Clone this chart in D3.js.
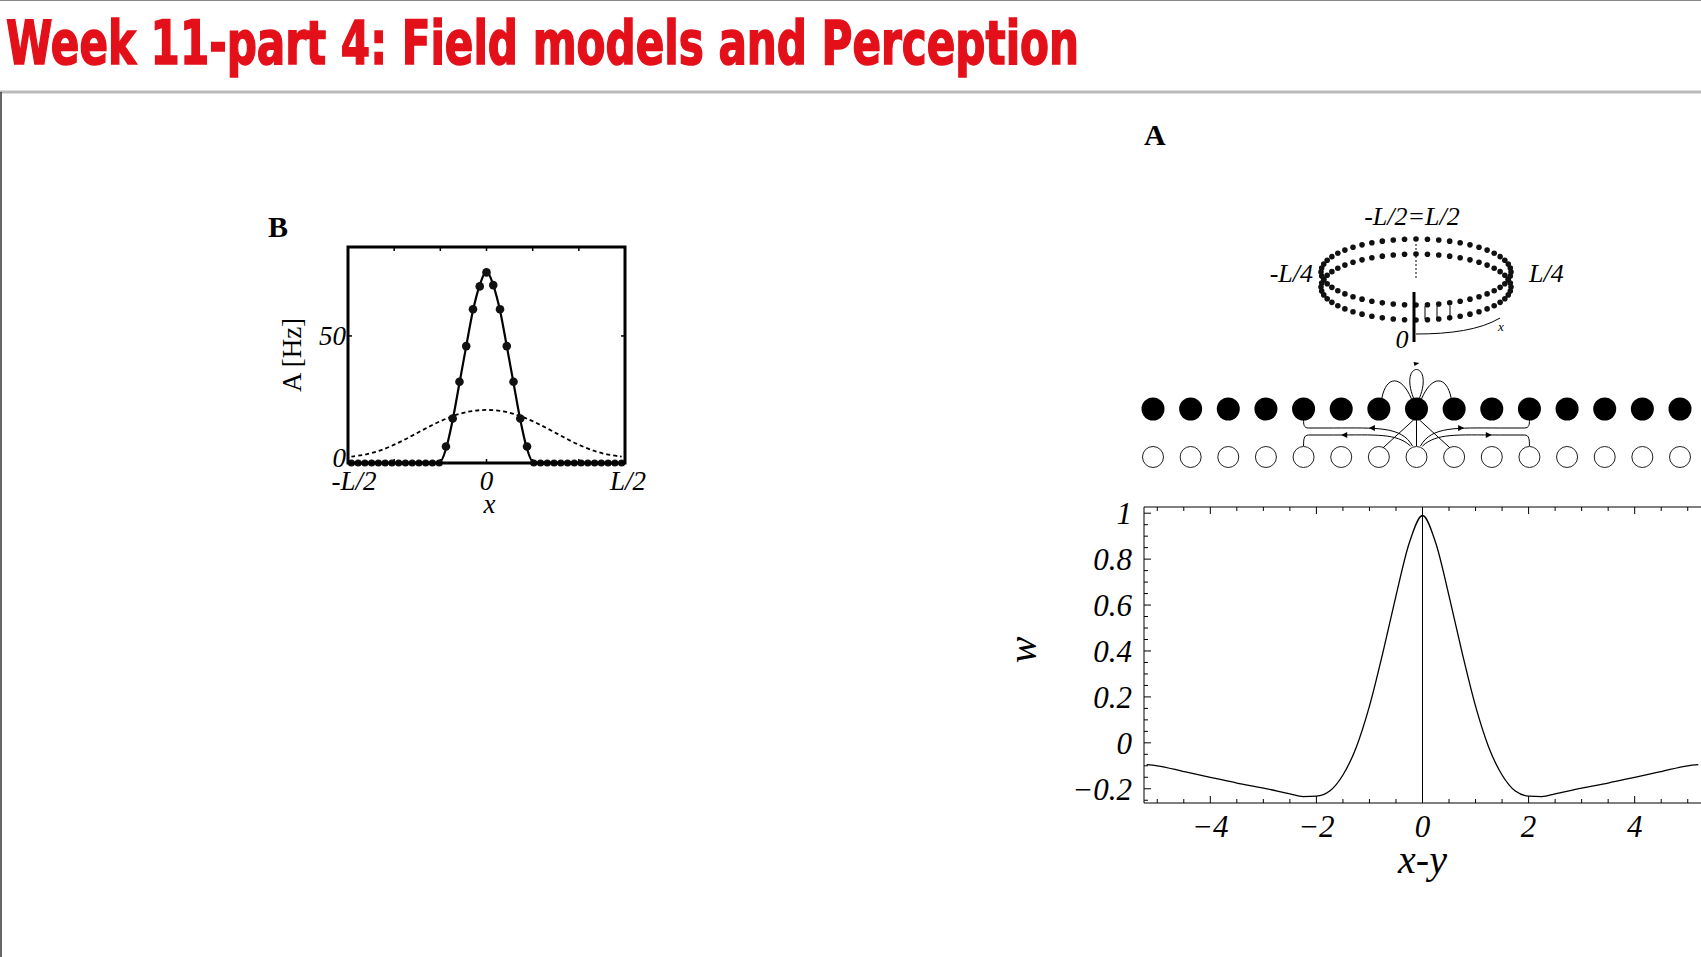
<!DOCTYPE html>
<html><head><meta charset="utf-8">
<script src="https://cdn.jsdelivr.net/npm/d3@7"></script>
<style>body{margin:0;background:#fff}svg{display:block}</style></head>
<body><svg id="c" width="1701" height="957"></svg>
<script>
// ---- Panel B data (neuron index -20..20 across -L/2..L/2)
const bDotIdx = [-20,-19,-18,-17,-16,-15,-14,-13,-12,-11,-10,-9,-8,-7,-6,-5,-4,-3,-2,-1,0,1,2,3,4,5,6,7,8,9,10,11,12,13,14,15,16,17,18,19,20];
const bDotVal = [0,0,0,0,0,0,0,0,0,0,0,0,0,0,6.5,17.5,32,46,60.5,69.5,75,70,60.5,46,32,17.5,6.5,0,0,0,0,0,0,0,0,0,0,0,0,0,0];
const bSolidIdx = [-20,-7,-6,-5,-4,-3,-2,-1,0,1,2,3,4,5,6,7,20];
const bSolidVal = [0,0,5.5,17,31.5,46,60,70,75.5,70,60,46,31.5,17,5.5,0,0];
const bDashIdx = [-20,-18,-16,-14,-12,-10,-8,-6,-4,-2,0,2,4,6,8,10,12,14,16,18,20];
const bDashVal = [2.5,3.2,4.6,6.7,9.3,12.2,15,17.5,19.5,20.6,21,20.6,19.5,17.5,15,12.2,9.3,6.7,4.6,3.2,2.5];
const bXTickLabels = ["-L/2","0","L/2"];
const bYTicks = [0,50];
// ---- Panel A (w kernel)
const wX = [-5.2,-5,-4.5,-4,-3.5,-3,-2.5,-2.25,-2,-1.75,-1.5,-1.25,-1,-0.75,-0.5,-0.25,0,0.25,0.5,0.75,1,1.25,1.5,1.75,2,2.25,2.5,3,3.5,4,4.5,5,5.2];
const wY = [-0.095,-0.1,-0.125,-0.15,-0.175,-0.197,-0.222,-0.234,-0.232,-0.21,-0.14,-0.02,0.16,0.39,0.64,0.87,0.99,0.87,0.64,0.39,0.16,-0.02,-0.14,-0.21,-0.232,-0.234,-0.222,-0.197,-0.175,-0.15,-0.125,-0.1,-0.095];
const wXTicks = [-4,-2,0,2,4];
const wYTicks = [-0.2,0,0.2,0.4,0.6,0.8,1];
const neuronIdx = [-7,-6,-5,-4,-3,-2,-1,0,1,2,3,4,5,6,7];

const svg = d3.select("#c");
svg.append("line").attr("x1",0).attr("x2",1701).attr("y1",0.5).attr("y2",0.5).attr("stroke","#888");
svg.append("line").attr("x1",0).attr("x2",1701).attr("y1",92).attr("y2",92).attr("stroke","#bbb").attr("stroke-width",3);
svg.append("line").attr("x1",1).attr("x2",1).attr("y1",92).attr("y2",957).attr("stroke","#333").attr("stroke-width",1.5);
svg.append("text").attr("x",6).attr("y",64).attr("fill","#e3101a").attr("stroke","#e3101a").attr("stroke-width",1.5)
  .style("font-family","'DejaVu Sans Condensed','DejaVu Sans'").style("font-weight","bold").style("font-size","60px")
  .attr("textLength",1073).attr("lengthAdjust","spacingAndGlyphs")
  .text("Week 11-part 4: Field models and Perception");

const serif = "'Liberation Serif','DejaVu Serif',serif";

// ---------- Panel B
{
  const L=348,R=625,T=247,B=463;
  const x = d3.scaleLinear().domain([-20.5,20.5]).range([L,R]);
  const y = d3.scaleLinear().domain([0,85]).range([B,T]);
  const g = svg.append("g");
  g.append("text").attr("x",268).attr("y",237).text("B").style("font-family",serif).style("font-weight","bold").style("font-size","30px");
  const frac = [-1/3,-1/6,0,1/6,1/3];
  frac.forEach(f=>{const xx=x(f*41);
    g.append("line").attr("x1",xx).attr("x2",xx).attr("y1",T).attr("y2",T+4).attr("stroke","#000").attr("stroke-width",1.5);
    g.append("line").attr("x1",xx).attr("x2",xx).attr("y1",B).attr("y2",B-4).attr("stroke","#000").attr("stroke-width",1.5);});
  bYTicks.forEach(v=>{g.append("line").attr("x1",R).attr("x2",R-4).attr("y1",y(v)).attr("y2",y(v)).attr("stroke","#000").attr("stroke-width",1.5);
    g.append("line").attr("x1",L).attr("x2",L+4).attr("y1",y(v)).attr("y2",y(v)).attr("stroke","#000").attr("stroke-width",1.5);
    g.append("text").attr("x",L-2).attr("y",y(v)+(v===0?4:9)).attr("text-anchor","end").text(v).style("font-family",serif).style("font-style","italic").style("font-size","27px");});
  [-20.5,0,20.5].forEach((v,i)=>g.append("text").attr("x",x(v)+(i===0?6:(i===2?3:0))).attr("y",B+27).attr("text-anchor","middle").text(bXTickLabels[i]).style("font-family",serif).style("font-style","italic").style("font-size","27px"));
  g.append("text").attr("x",(L+R)/2+3).attr("y",B+50).attr("text-anchor","middle").text("x").style("font-family",serif).style("font-style","italic").style("font-size","27px");
  g.append("text").attr("transform",`translate(${L-47},${355}) rotate(-90)`).attr("text-anchor","middle").text("A [Hz]").style("font-family",serif).style("font-size","27px");
  g.append("path").datum(bDashIdx.map((d,i)=>[d,bDashVal[i]])).attr("d",d3.line().x(d=>x(d[0])).y(d=>y(d[1])).curve(d3.curveBasis))
    .attr("fill","none").attr("stroke","#000").attr("stroke-width",1.8).attr("stroke-dasharray","4,3");
  g.append("path").datum(bSolidIdx.map((d,i)=>[d,bSolidVal[i]])).attr("d",d3.line().x(d=>x(d[0])).y(d=>y(d[1])).curve(d3.curveMonotoneX))
    .attr("fill","none").attr("stroke","#000").attr("stroke-width",2.2);
  g.selectAll("circle.bd").data(bDotIdx).join("circle").attr("cx",d=>x(d)).attr("cy",(d,i)=>y(bDotVal[i])).attr("r",d=>Math.abs(d)<=6?4.3:3.6).attr("fill","#111");
  g.append("rect").attr("x",L).attr("y",T).attr("width",R-L).attr("height",B-T).attr("fill","none").attr("stroke","#000").attr("stroke-width",3);
}

// ---------- Panel A
{
  const g = svg.append("g");
  g.append("text").attr("x",1144).attr("y",145).text("A").style("font-family",serif).style("font-weight","bold").style("font-size","30px");
  const cx=1416, rx=95, ry=33;
  [272,287].forEach(cy=>{
    const ts=d3.range(52).map(i=>i*2*Math.PI/52);
    g.selectAll(null).data(ts).join("circle").attr("cx",t=>cx+rx*Math.cos(t)).attr("cy",t=>cy+ry*Math.sin(t)).attr("r",2.8).attr("fill","#111");
  });
  g.append("line").attr("x1",cx).attr("x2",cx).attr("y1",244).attr("y2",278).attr("stroke","#000").attr("stroke-dasharray","2,2");
  g.append("line").attr("x1",cx-2).attr("x2",cx-2).attr("y1",292).attr("y2",342).attr("stroke","#000").attr("stroke-width",3);
  [1425,1437,1450].forEach(xx=>g.append("line").attr("x1",xx).attr("x2",xx).attr("y1",306).attr("y2",319).attr("stroke","#000"));
  g.append("path").attr("d","M1416,334 C1450,334 1480,330 1500,318").attr("fill","none").attr("stroke","#000");
  g.append("text").attr("x",1498).attr("y",331).text("x").style("font-family",serif).style("font-style","italic").style("font-size","13px");
  const lab=(t,x,y,a)=>g.append("text").attr("x",x).attr("y",y).attr("text-anchor",a).text(t).style("font-family",serif).style("font-style","italic").style("font-size","26px");
  lab("-L/2=L/2",1412,225,"middle"); lab("-L/4",1313,282,"end"); lab("L/4",1529,282,"start"); lab("0",1402,348,"middle");
  const nx = d3.scaleLinear().domain([-7,7]).range([1153,1680]);
  g.selectAll(null).data(neuronIdx).join("circle").attr("cx",d=>nx(d)).attr("cy",409).attr("r",11.5).attr("fill","#000");
  g.selectAll(null).data(neuronIdx).join("circle").attr("cx",d=>nx(d)).attr("cy",457).attr("r",10.5).attr("fill","#fff").attr("stroke","#222").attr("stroke-width",1);
  const c=nx(0);
  const P=(d)=>g.append("path").attr("d",d).attr("fill","none").attr("stroke","#000").attr("stroke-width",1);
  P(`M${c-3},398 C${c-18},360 ${c+18},360 ${c+3},398`);
  g.append("path").attr("d",`M${c-3},362 l6,1 l-5,3z`).attr("fill","#000");
  P(`M${c-5},399 C${c-15},375 ${c-30},375 ${nx(-1)+3},398`);
  P(`M${c+5},399 C${c+15},375 ${c+30},375 ${nx(1)-3},398`);
  P(`M${c},420 L${c},446`); P(`M${c-3},420 L${nx(-1)+4},448`); P(`M${c+3},420 L${nx(1)-4},448`);
  P(`M${c-4},446 C${c-15},426 ${c-40},428 ${nx(-3)+30},428 L${nx(-3)+5},428 C${nx(-3)},428 ${nx(-3)},424 ${nx(-3)},420`);
  P(`M${c+4},446 C${c+15},426 ${c+40},428 ${nx(3)-30},428 L${nx(3)-5},428 C${nx(3)},428 ${nx(3)},424 ${nx(3)},420`);
  P(`M${c-6},446 C${c-20},433 ${c-40},435 ${nx(-3)+30},435 L${nx(-3)+5},435 C${nx(-3)},435 ${nx(-3)},440 ${nx(-3)},446`);
  P(`M${c+6},446 C${c+20},433 ${c+40},435 ${nx(3)-30},435 L${nx(3)-5},435 C${nx(3)},435 ${nx(3)},440 ${nx(3)},446`);
  [[nx(-1)-10,428,-1],[nx(1)+10,428,1],[nx(-2),435,-1],[nx(2),435,1]].forEach(([ax,ay,dir])=>
    g.append("path").attr("d",`M${ax},${ay} l${-dir*6},-3 l0,6z`).attr("fill","#000"));

  const L=1144,R=1701,T=507,B=803;
  const x=d3.scaleLinear().domain([-5.25,5.25]).range([L,R]);
  const y=d3.scaleLinear().domain([-0.262,1.027]).range([B,T]);
  g.append("line").attr("x1",L).attr("x2",R).attr("y1",B).attr("y2",B).attr("stroke","#000");
  g.append("line").attr("x1",L).attr("x2",R).attr("y1",T).attr("y2",T).attr("stroke","#000");
  g.append("line").attr("x1",L).attr("x2",L).attr("y1",T).attr("y2",B).attr("stroke","#000");
  g.append("line").attr("x1",x(0)).attr("x2",x(0)).attr("y1",T).attr("y2",B).attr("stroke","#000");
  d3.range(-5,5.01,0.5).forEach(v=>{const big=Math.abs(v%2)<1e-9; const len=big?7:4;
    g.append("line").attr("x1",x(v)).attr("x2",x(v)).attr("y1",B).attr("y2",B-len).attr("stroke","#000");
    g.append("line").attr("x1",x(v)).attr("x2",x(v)).attr("y1",T).attr("y2",T+len).attr("stroke","#000");});
  d3.range(-0.25,1.001,0.05).forEach(v=>{const big=Math.abs(Math.round(v*100)%20)<1e-6; const len=big?7:4;
    g.append("line").attr("x1",L).attr("x2",L+len).attr("y1",y(v)).attr("y2",y(v)).attr("stroke","#000");});
  const fmtY=v=>v===0?"0":v===1?"1":(v<0?"\u2212":"")+Math.abs(v).toFixed(1);
  wYTicks.forEach(v=>g.append("text").attr("x",L-12).attr("y",y(v)+11).attr("text-anchor","end").text(fmtY(v)).style("font-family",serif).style("font-style","italic").style("font-size","31px"));
  wXTicks.forEach(v=>g.append("text").attr("x",x(v)).attr("y",B+34).attr("text-anchor","middle").text((v<0?"\u2212":"")+Math.abs(v)).style("font-family",serif).style("font-style","italic").style("font-size","31px"));
  g.append("text").attr("x",x(0)).attr("y",B+70).attr("text-anchor","middle").text("x-y").style("font-family",serif).style("font-style","italic").style("font-size","40px");
  g.append("text").attr("transform",`translate(1036,650) rotate(-90)`).attr("text-anchor","middle").text("w").style("font-family",serif).style("font-style","italic").style("font-size","40px");
  g.append("path").datum(wX.map((d,i)=>[d,wY[i]])).attr("d",d3.line().x(d=>x(d[0])).y(d=>y(d[1])).curve(d3.curveMonotoneX))
    .attr("fill","none").attr("stroke","#000").attr("stroke-width",1.3);
}
</script></body></html>
